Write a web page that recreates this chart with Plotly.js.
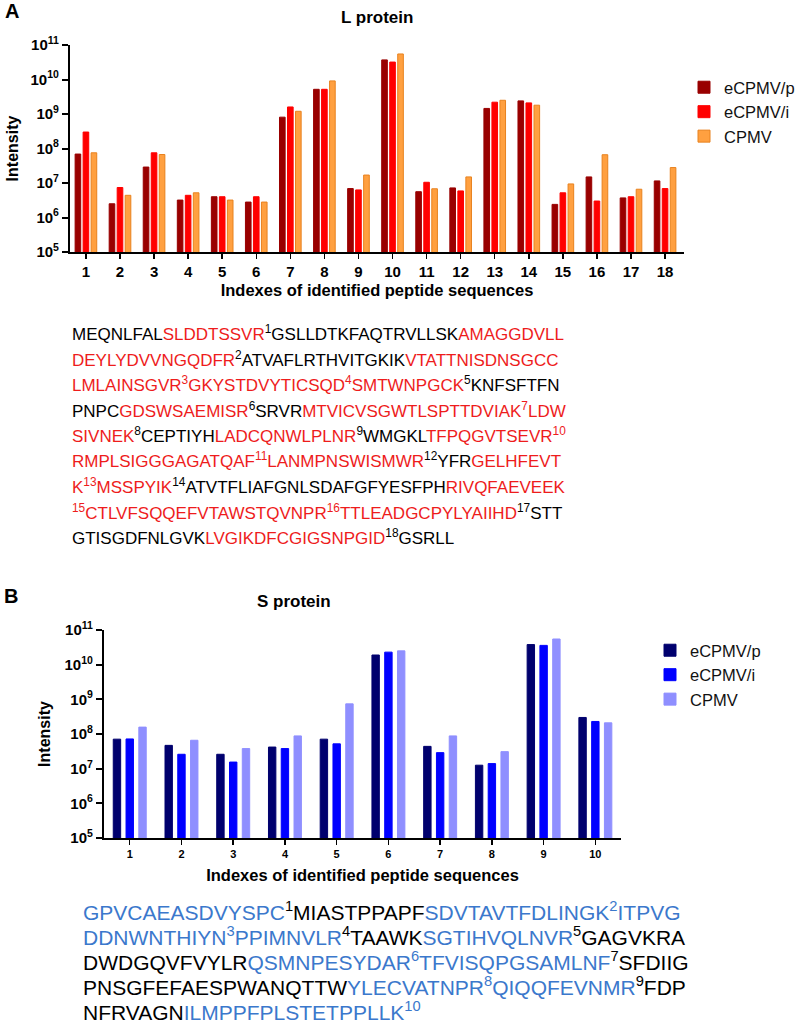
<!DOCTYPE html>
<html>
<head>
<meta charset="utf-8">
<script src="https://cdn.plot.ly/plotly-3.0.1.min.js"></script>
<style>html,body{margin:0;padding:0;background:#fff;}#chart{width:800px;height:1025px;}</style>
</head>
<body>
<div id="chart"></div>
<script>
// ---------- data: L protein ----------
const peptidesL = [1, 2, 3, 4, 5, 6, 7, 8, 9, 10, 11, 12, 13, 14, 15, 16, 17, 18];
const L_eCPMVp = [6.9e7, 2.5e6, 2.9e7, 3.2e6, 4.0e6, 2.8e6, 8.1e8, 5.2e9, 6.9e6, 3.7e10, 5.6e6, 7.2e6, 1.45e9, 2.4e9, 2.4e6, 1.5e7, 3.7e6, 1.15e7];
const L_eCPMVi = [3.0e8, 7.4e6, 7.5e7, 4.4e6, 4.0e6, 4.0e6, 1.6e9, 5.2e9, 6.3e6, 3.2e10, 1.05e7, 5.9e6, 2.2e9, 2.1e9, 5.2e6, 3.0e6, 4.0e6, 6.9e6];
const L_CPMV   = [7.5e7, 4.4e6, 6.7e7, 5.2e6, 3.2e6, 2.8e6, 1.2e9, 9.1e9, 1.7e7, 5.5e10, 6.8e6, 1.5e7, 2.5e9, 1.8e9, 9.4e6, 6.6e7, 6.6e6, 2.8e7];

// ---------- data: S protein ----------
const peptidesS = [1, 2, 3, 4, 5, 6, 7, 8, 9, 10];
const S_eCPMVp = [7.1e7, 4.7e7, 2.6e7, 4.2e7, 7.1e7, 1.9e10, 4.4e7, 1.26e7, 3.8e10, 3.0e8];
const S_eCPMVi = [7.2e7, 2.6e7, 1.55e7, 3.8e7, 5.2e7, 2.3e10, 2.9e7, 1.4e7, 3.6e10, 2.3e8];
const S_CPMV   = [1.58e8, 6.6e7, 3.8e7, 8.8e7, 7.4e8, 2.5e10, 8.8e7, 3.1e7, 5.5e10, 2.1e8];

const seriesNames = ['eCPMV/p', 'eCPMV/i', 'CPMV'];
const yTickVals = [1e5, 1e6, 1e7, 1e8, 1e9, 1e10, 1e11];
const yTickText = ['10<sup>5</sup>', '10<sup>6</sup>', '10<sup>7</sup>', '10<sup>8</sup>', '10<sup>9</sup>', '10<sup>10</sup>', '10<sup>11</sup>'];

// sequence text: {..} = identified peptide (coloured), ^n = peptide index
const seqL = [
  'MEQNLFAL{SLDDTSSVR^1}GSLLDTKFAQTRVLLSK{AMAGGDVLL}',
  '{DEYLYDVVNGQDFR^2}ATVAFLRTHVITGKIK{VTATTNISDNSGCC}',
  '{LMLAINSGVR^3GKYSTDVYTICSQD^4SMTWNPGCK^5}KNFSFTFN',
  'PNPC{GDSWSAEMISR^6}SRVR{MTVICVSGWTLSPTTDVIAK^7LDW}',
  '{SIVNEK^8}CEPTIYH{LADCQNWLPLNR^9}WMGKL{TFPQGVTSEVR^10}',
  '{RMPLSIGGGAGATQAF^11LANMPNSWISMWR^12}YFR{GELHFEVT}',
  '{K^13MSSPYIK^14}ATVTFLIAFGNLSDAFGFYESFPH{RIVQFAEVEEK}',
  '{^15CTLVFSQQEFVTAWSTQVNPR^16TTLEADGCPYLYAIIHD^17}STT',
  'GTISGDFNLGVK{LVGIKDFCGIGSNPGID^18}GSRLL'
];
const seqS = [
  '{GPVCAEASDVYSPC^1}MIASTPPAPF{SDVTAVTFDLINGK^2ITPVG}',
  '{DDNWNTHIYN^3PPIMNVLR^4}TAAWK{SGTIHVQLNVR^5}GAGVKRA',
  'DWDGQVFVYLR{QSMNPESYDAR^6TFVISQPGSAMLNF^7}SFDIIG',
  'PNSGFEFAESPWANQTTW{YLECVATNPR^8QIQQFEVNMR^9}FDP',
  'NFRVAGN{ILMPPFPLSTETPPLLK^10}'
];

const colL = ['#990000', '#ff0000', '#ffa040'];
const lineL = ['#990000', '#ff0000', '#e8821e'];
const colS = ['#00006e', '#0000ff', '#8f8fff'];
const FONT = 'Liberation Sans, Arial, Helvetica, sans-serif';
const W = 800, H = 1025;
const px = x => x / W;
const py = y => 1 - y / H;

function bar(x, y, name, i, col, lcol, xa, ya, leg, width, step) {
  return {
    type: 'bar', x: x, y: y, name: name, xaxis: xa, yaxis: ya, legend: leg,
    width: width, offset: (i - 1) * step - width / 2,
    marker: {color: col, line: {color: lcol, width: 1}},
    showlegend: true, hoverinfo: 'x+y+name'
  };
}

const Ldata = [L_eCPMVp, L_eCPMVi, L_CPMV];
const Sdata = [S_eCPMVp, S_eCPMVi, S_CPMV];
const traces = [];
Ldata.forEach((d, i) => traces.push(bar(peptidesL, d, seriesNames[i], i, colL[i], lineL[i], 'x', 'y', 'legend', 0.165, 0.235)));
Sdata.forEach((d, i) => traces.push(bar(peptidesS, d, seriesNames[i], i, colS[i], colS[i], 'x2', 'y2', 'legend2', 0.143, 0.247)));

function lineHtml(str, color) {
  let mode = 0, html = '', i = 0;
  const c = m => (m ? color : '#000000');
  while (i < str.length) {
    const ch = str[i];
    if (ch === '{') { mode = 1; i++; continue; }
    if (ch === '}') { mode = 0; i++; continue; }
    if (ch === '^') {
      let j = i + 1, num = '';
      while (j < str.length && /\d/.test(str[j])) { num += str[j]; j++; }
      let m2 = mode;
      if (str[j] === '}') m2 = (j + 1 < str.length) ? 0 : mode;
      else if (str[j] === '{') m2 = 1;
      html += '<span style="color:' + c(m2) + '"><sup>' + num + '</sup></span>';
      i = j; continue;
    }
    let j = i, run = '';
    while (j < str.length && '{}^'.indexOf(str[j]) < 0) { run += str[j]; j++; }
    html += '<span style="color:' + c(mode) + '">' + run + '</span>';
    i = j;
  }
  return html;
}

const bold = (size) => ({family: FONT, size: size, color: '#000', weight: 'bold'});
const annotations = [
  {text: 'A', x: px(3), y: py(11), xanchor: 'left', yanchor: 'middle', font: bold(20)},
  {text: 'B', x: px(2), y: py(596), xanchor: 'left', yanchor: 'middle', font: bold(20)},
  {text: 'L protein', x: px(377), y: py(17), xanchor: 'center', yanchor: 'middle', font: bold(17)},
  {text: 'S protein', x: px(294), y: py(601), xanchor: 'center', yanchor: 'middle', font: bold(17)}
];
seqL.forEach((s, k) => annotations.push({
  text: lineHtml(s, '#ee1c1c'), x: px(70), y: py(333 + k * 25.5), xanchor: 'left', yanchor: 'middle',
  font: {family: FONT, size: 17, color: '#000'}
}));
seqS.forEach((s, k) => annotations.push({
  text: lineHtml(s, '#3b78cc'), x: px(81), y: py(911 + k * 25), xanchor: 'left', yanchor: 'middle',
  font: {family: FONT, size: 21, color: '#000'}
}));
annotations.forEach(a => { a.xref = 'paper'; a.yref = 'paper'; a.showarrow = false; });

function xAxis(dom, range, vals, tfs, standoff, anchor) {
  return {
    domain: dom, range: range, anchor: anchor, tickmode: 'array', tickvals: vals, ticktext: vals.map(String),
    showline: true, linecolor: '#000', linewidth: 2, ticks: 'outside', ticklen: 5, tickwidth: 1.5, tickcolor: '#000',
    showgrid: false, zeroline: false, tickfont: bold(tfs), fixedrange: true,
    title: {text: 'Indexes of identified peptide sequences', font: bold(16.5), standoff: standoff}
  };
}
function yAxis(dom, tfs, standoff, anchor) {
  return {
    type: 'log', domain: dom, range: [5, 11], anchor: anchor, tickmode: 'array', tickvals: yTickVals, ticktext: yTickText,
    showline: true, linecolor: '#000', linewidth: 2, ticks: 'outside', ticklen: 6, tickwidth: 2, tickcolor: '#000',
    showgrid: false, zeroline: false, tickfont: bold(tfs), fixedrange: true,
    title: {text: 'Intensity', font: bold(16), standoff: standoff}
  };
}

const layout = {
  width: W, height: H, margin: {l: 0, r: 0, t: 0, b: 0}, paper_bgcolor: '#fff', plot_bgcolor: '#fff',
  font: {family: FONT, color: '#000'}, barmode: 'overlay',
  xaxis: xAxis([px(70), px(685)], [0.53, 18.56], peptidesL, 15, 5, 'y'),
  yaxis: yAxis([py(252), py(45)], 15, 8, 'x'),
  xaxis2: xAxis([px(104), px(622)], [0.5, 10.5], peptidesS, 11, 10, 'y2'),
  yaxis2: yAxis([py(838), py(630)], 15, 10, 'x2'),
  legend: {x: px(685), y: py(70), xanchor: 'left', yanchor: 'top', font: {family: FONT, size: 16.5, color: '#111'}, bgcolor: 'rgba(0,0,0,0)'},
  legend2: {x: px(650), y: py(633), xanchor: 'left', yanchor: 'top', font: {family: FONT, size: 16.5, color: '#111'}, bgcolor: 'rgba(0,0,0,0)'},
  annotations: annotations
};

Plotly.newPlot('chart', traces, layout, {displayModeBar: false, staticPlot: true});
</script>
</body>
</html>
